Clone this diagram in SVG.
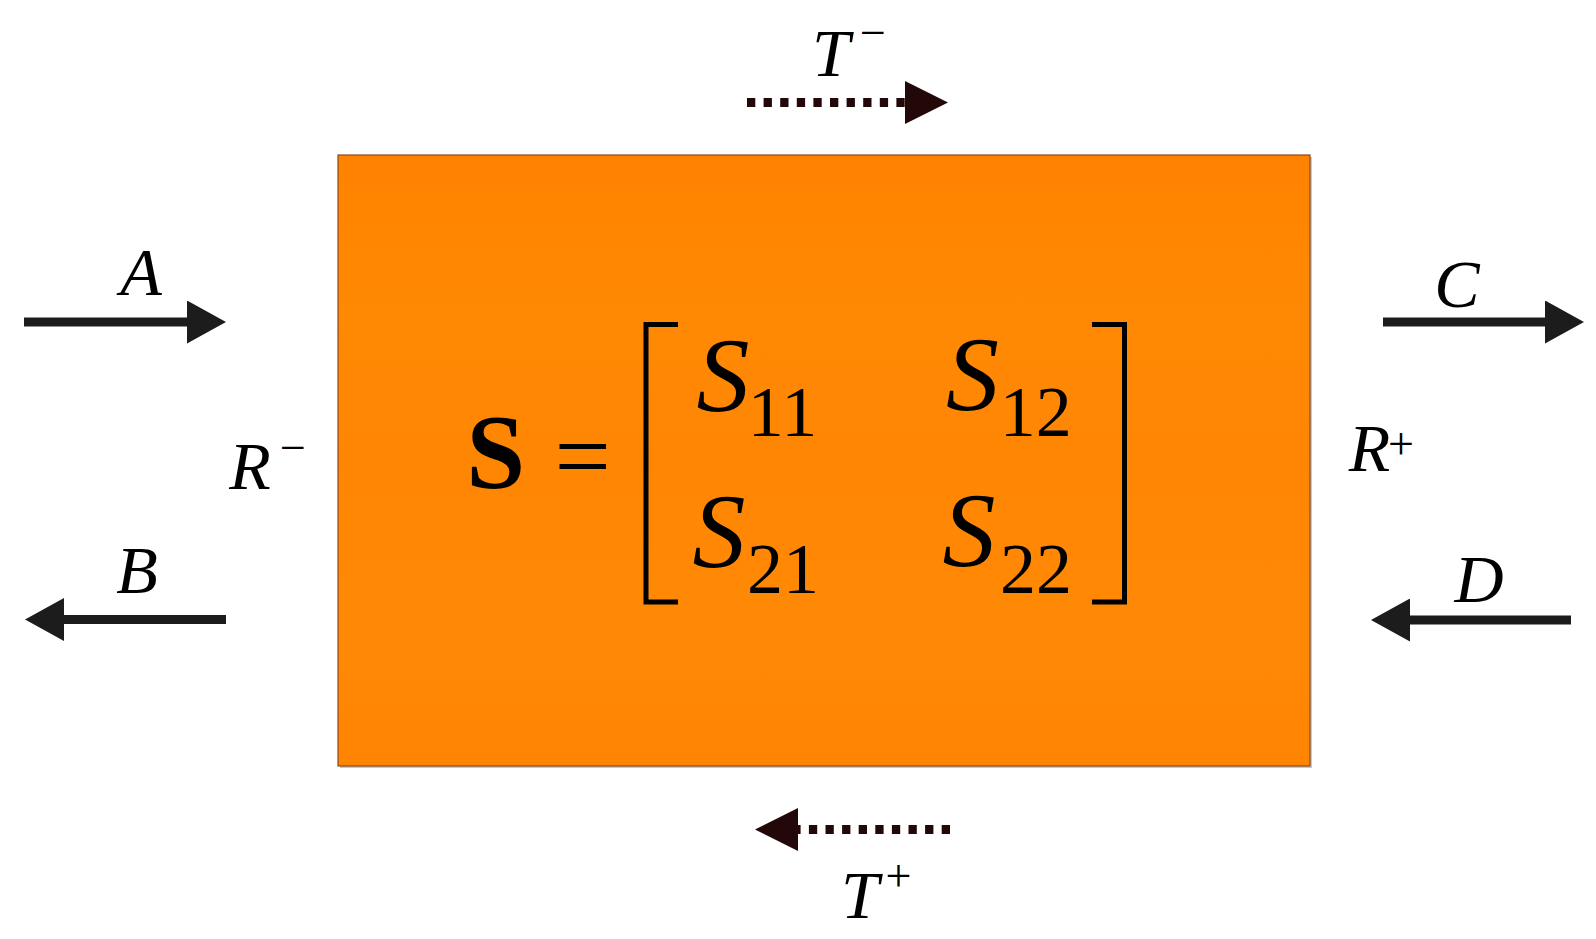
<svg xmlns="http://www.w3.org/2000/svg" width="1596" height="939" viewBox="0 0 1596 939">
<style>
text{font-family:'Liberation Serif','Times New Roman',serif;fill:#000}
.it{font-style:italic}
.lbl{font-size:68px}
.sup{font-size:46px}
.big{font-size:106px}
.sub{font-size:72px}
.solid{stroke:#1c1c1c;stroke-width:9;fill:none}
.dot{stroke:#220808;stroke-width:9;fill:none;stroke-dasharray:8.3 8.3}
.brk{stroke:#000;stroke-width:5;fill:none}
</style>
<defs>
<linearGradient id="bg" x1="0" y1="0" x2="0" y2="1">
<stop offset="0" stop-color="#FF8200"/>
<stop offset="0.1" stop-color="#FF8500"/>
<stop offset="0.25" stop-color="#FF8904"/>
<stop offset="0.5" stop-color="#FF8603"/>
<stop offset="0.8" stop-color="#FF8906"/>
<stop offset="1" stop-color="#FF8402"/>
</linearGradient>
<marker id="ah" viewBox="0 0 39 43" markerWidth="39" markerHeight="43" refX="0" refY="21.5" orient="auto" markerUnits="userSpaceOnUse">
<path d="M0,0 L39,21.5 L0,43 Z" fill="#1c1c1c"/>
</marker>
<marker id="ahd" viewBox="0 0 43 43" markerWidth="43" markerHeight="43" refX="0" refY="21.5" orient="auto" markerUnits="userSpaceOnUse">
<path d="M0,0 L43,21.5 L0,43 Z" fill="#220808"/>
</marker>
</defs>
<g id="block">
<rect x="340" y="157" width="972" height="611" fill="#c8c8c8"/>
<rect x="338" y="155" width="972" height="611" fill="url(#bg)" stroke="#8a4a1a" stroke-width="1.2"/>
</g>
<g id="matrix">
<text x="495.7" y="488" text-anchor="middle" font-weight="bold" font-size="106">S</text>
<text x="582.7" y="490" text-anchor="middle" font-size="100">=</text>
<path class="brk" d="M678,324.5 H646 V602 H678"/>
<path class="brk" d="M1092,324.5 H1124.5 V602 H1092"/>
<text class="it big" x="723" y="411" text-anchor="middle">S</text>
<text class="sub" x="782.5" y="436" text-anchor="middle">11</text>
<text class="it big" x="972.5" y="410" text-anchor="middle">S</text>
<text class="sub" x="1035.7" y="436" text-anchor="middle">12</text>
<text class="it big" x="719" y="567" text-anchor="middle">S</text>
<text class="sub" x="783" y="593" text-anchor="middle">21</text>
<text class="it big" x="969" y="566" text-anchor="middle">S</text>
<text class="sub" x="1036" y="593" text-anchor="middle">22</text>
</g>
<g id="connectors">
<path id="arrowA" class="solid" d="M24,322 H187" marker-end="url(#ah)"/>
<path id="arrowB" class="solid" d="M226,619.5 H64" marker-end="url(#ah)"/>
<path id="arrowC" class="solid" d="M1383,322 H1545" marker-end="url(#ah)"/>
<path id="arrowD" class="solid" d="M1571,620 H1410" marker-end="url(#ah)"/>
<path id="arrowTm" class="dot" d="M747,102.5 H905" marker-end="url(#ahd)"/>
<path id="arrowTp" class="dot" d="M950,829.5 H798" marker-end="url(#ahd)"/>
</g>
<g id="labels">
<text class="it lbl" x="141" y="295" text-anchor="middle">A</text>
<text class="it lbl" x="137" y="593" text-anchor="middle">B</text>
<text class="it lbl" x="1457" y="307" text-anchor="middle">C</text>
<text class="it lbl" x="1479" y="602" text-anchor="middle">D</text>
<text class="it lbl" x="250" y="489" text-anchor="middle">R</text>
<text class="sup" x="293" y="463" text-anchor="middle">−</text>
<text class="it lbl" x="1369.5" y="471" text-anchor="middle">R</text>
<text class="sup" x="1401" y="458.5" text-anchor="middle">+</text>
<text class="it lbl" x="831" y="76" text-anchor="middle">T</text>
<text class="sup" x="873" y="48" text-anchor="middle">−</text>
<text class="it lbl" x="860" y="918" text-anchor="middle">T</text>
<text class="sup" x="898.5" y="891" text-anchor="middle">+</text>
</g>
</svg>
